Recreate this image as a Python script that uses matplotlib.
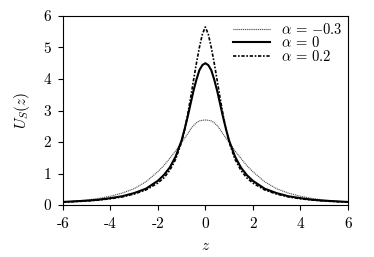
import matplotlib
matplotlib.use('Agg')
import matplotlib.pyplot as plt

plt.rcParams['font.family'] = 'serif'
plt.rcParams['font.serif'] = ['cmr10']
plt.rcParams['mathtext.fontset'] = 'cm'
plt.rcParams['axes.unicode_minus'] = False
plt.rcParams['font.size'] = 11

# sample points along z
z = [-6, -5.5, -5, -4.5, -4, -3.5, -3, -2.5, -2, -1.75, -1.5, -1.25, -1, -0.875, -0.75, -0.625,
     -0.5, -0.375, -0.25, -0.125, 0, 0.125, 0.25, 0.375, 0.5, 0.625, 0.75, 0.875,
     1, 1.25, 1.5, 1.75, 2, 2.5, 3, 3.5, 4, 4.5, 5, 5.5, 6]

# U_S(z)
u_m03 = [0.09, 0.12, 0.16, 0.21, 0.28, 0.38, 0.52, 0.74, 1.06, 1.25, 1.48, 1.72, 2.00, 2.12, 2.25, 2.40,
         2.52, 2.61, 2.67, 2.69, 2.70, 2.69, 2.67, 2.61, 2.52, 2.40, 2.25, 2.12,
         2.00, 1.72, 1.48, 1.25, 1.06, 0.74, 0.52, 0.38, 0.28, 0.21, 0.16, 0.12, 0.09]
u_0 = [0.10, 0.12, 0.14, 0.17, 0.22, 0.28, 0.38, 0.52, 0.77, 0.95, 1.19, 1.54, 2.05, 2.40, 2.78, 3.20,
       3.62, 3.98, 4.28, 4.44, 4.50, 4.44, 4.28, 3.98, 3.62, 3.20, 2.78, 2.40,
       2.05, 1.54, 1.19, 0.95, 0.77, 0.52, 0.38, 0.28, 0.22, 0.17, 0.14, 0.12, 0.10]
u_02 = [0.09, 0.11, 0.13, 0.16, 0.20, 0.26, 0.35, 0.48, 0.70, 0.86, 1.10, 1.45, 2.00, 2.38, 2.85, 3.38,
        3.95, 4.50, 5.00, 5.42, 5.65, 5.42, 5.00, 4.50, 3.95, 3.38, 2.85, 2.38,
        2.00, 1.45, 1.10, 0.86, 0.70, 0.48, 0.35, 0.26, 0.20, 0.16, 0.13, 0.11, 0.09]

xticks = [-6, -4, -2, 0, 2, 4, 6]
yticks = [0, 1, 2, 3, 4, 5, 6]

fig = plt.figure(figsize=(3.74, 2.57), dpi=100)
ax = fig.add_axes([0.168, 0.202, 0.762, 0.736])

ax.plot(z, u_m03, color='0.3', lw=0.8, ls=(0, (1, 0.7)), label=r'$\alpha\,=\,{-0.3}$')
ax.plot(z, u_0, color='k', lw=1.5, ls='-', label=r'$\alpha\,=\,0$')
ax.plot(z, u_02, color='k', lw=1.2, ls=(0, (2, 1, 1, 1)), label=r'$\alpha\,=\,0.2$')

ax.set_xlim(-6, 6)
ax.set_ylim(0, 6)
ax.set_xticks(xticks)
ax.set_xticklabels([str(t) for t in xticks])
ax.set_yticks(yticks)
ax.set_yticklabels([str(t) for t in yticks])
ax.tick_params(direction='out', length=3.5, width=0.8, pad=5)
for s in ax.spines.values():
    s.set_linewidth(0.8)

ax.set_xlabel(r'$z$', labelpad=6)
ax.set_ylabel(r'$U_S(z)$', labelpad=8)

ax.legend(loc='upper right', frameon=False, handlelength=2.6, handletextpad=0.7,
          labelspacing=-0.1, borderaxespad=0.2, borderpad=0.2, fontsize=10.5)

plt.savefig('out.png', dpi=100)
